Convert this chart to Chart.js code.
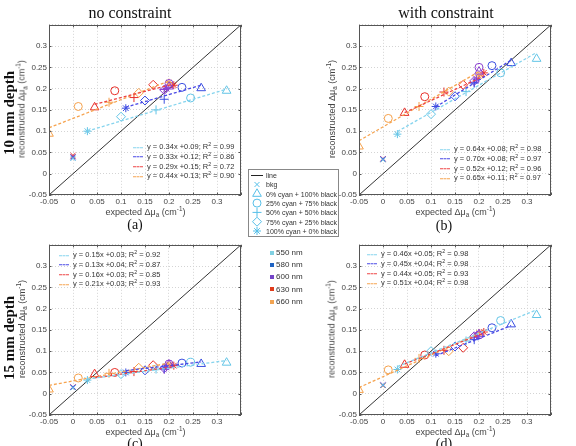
<!DOCTYPE html>
<html>
<head>
<meta charset="utf-8">
<script src="https://cdn.jsdelivr.net/npm/chart.js@4.4.1/dist/chart.umd.min.js"></script>
<style>
body { margin: 0; background: #fff; }
#fig { position: relative; width: 576px; height: 446px; overflow: hidden; font-family: "Liberation Sans", Arial, sans-serif; color: #333; }
.abs { position: absolute; white-space: nowrap; line-height: 1; }
.title { font-family: "Liberation Serif", "Times New Roman", serif; font-size: 16px; color: #111; transform: translate(-50%, -50%); }
.depth { font-family: "Liberation Serif", "Times New Roman", serif; font-weight: bold; font-size: 15px; color: #111; transform: translate(-50%, -50%) rotate(-90deg); }
.letter { font-family: "Liberation Serif", "Times New Roman", serif; font-size: 14px; color: #111; transform: translate(-50%, -50%); }
.ylab { font-size: 9px; color: #444; transform: translate(-50%, -50%) rotate(-90deg); }
.xlab { font-size: 9px; color: #444; transform: translate(-50%, -50%); }
.eq { font-size: 7.5px; color: #333; transform: translateY(-50%); }
.eq .dash { display: inline-block; width: 10px; border-top: 1px dashed; vertical-align: middle; margin-right: 4px; }
.leg { font-size: 7px; color: #333; transform: translateY(-50%); }
.sw { display: inline-block; width: 4px; height: 4px; margin-right: 2px; vertical-align: middle; }
sub, sup { font-size: 70%; line-height: 0; }
canvas { position: absolute; }
</style>
</head>
<body>
<div id="fig"></div>
<script>
// axis range shared by all four panels
const axisMin = -0.05;
const axisMax = 0.35;

const wavelengths = ['550 nm', '580 nm', '600 nm', '630 nm', '660 nm'];
const inks = ['bkg', '0% cyan + 100% black', '25% cyan + 75% black', '50% cyan + 50% black', '75% cyan + 25% black', '100% cyan + 0% black'];

// expected delta mu_a per wavelength, in ink order (bkg, 0%, 25%, 50%, 75%, 100% cyan)
const exp550 = [0, 0.320, 0.245, 0.173, 0.100, 0.030];
const exp580 = [0, 0.267, 0.227, 0.190, 0.150, 0.110];
const exp600 = [0, 0.200, 0.200, 0.190, 0.190, 0.195];
const exp630 = [0, 0.045, 0.087, 0.127, 0.167, 0.210];
const exp660 = [0, -0.050, 0.011, 0.075, 0.137, 0.200];

// (a) 10 mm, no constraint
const recA550 = [0.036, 0.195, 0.178, 0.150, 0.134, 0.100];
const recA580 = [0.038, 0.201, 0.203, 0.175, 0.172, 0.154];
const recA600 = [0.040, 0.205, 0.212, 0.198, 0.197, 0.200];
const recA630 = [0.043, 0.156, 0.195, 0.179, 0.209, 0.208];
const recA660 = [0.040, 0.094, 0.158, 0.168, 0.190, 0.214];
// (b) 10 mm, with constraint
const recB550 = [0.033, 0.270, 0.237, 0.193, 0.140, 0.093];
const recB580 = [0.034, 0.260, 0.254, 0.213, 0.182, 0.158];
const recB600 = [0.035, 0.240, 0.250, 0.215, 0.218, 0.222];
const recB630 = [0.035, 0.143, 0.181, 0.192, 0.209, 0.237];
const recB660 = [0.034, 0.064, 0.130, 0.158, 0.193, 0.230];
// (c) 15 mm, no constraint
const recC550 = [0.014, 0.073, 0.074, 0.058, 0.046, 0.032];
const recC580 = [0.015, 0.070, 0.072, 0.060, 0.055, 0.050];
const recC600 = [0.016, 0.068, 0.070, 0.057, 0.060, 0.062];
const recC630 = [0.016, 0.046, 0.050, 0.052, 0.067, 0.066];
const recC660 = [0.015, 0.010, 0.037, 0.048, 0.061, 0.068];
// (d) 15 mm, with constraint
const recD550 = [0.020, 0.185, 0.172, 0.124, 0.100, 0.057];
const recD580 = [0.020, 0.163, 0.155, 0.127, 0.111, 0.094];
const recD600 = [0.021, 0.140, 0.138, 0.133, 0.135, 0.137];
const recD630 = [0.020, 0.068, 0.091, 0.102, 0.108, 0.145];
const recD660 = [0.019, 0.009, 0.056, 0.083, 0.100, 0.143];

// linear fits (550, 580, 630, 660 nm)
const slopesA = [0.34, 0.33, 0.29, 0.44], interceptsA = [0.09, 0.12, 0.15, 0.13], r2A = [0.99, 0.86, 0.72, 0.90];
const slopesB = [0.64, 0.70, 0.52, 0.65], interceptsB = [0.08, 0.08, 0.12, 0.11], r2B = [0.98, 0.97, 0.96, 0.97];
const slopesC = [0.15, 0.13, 0.16, 0.21], interceptsC = [0.03, 0.04, 0.03, 0.03], r2C = [0.92, 0.87, 0.85, 0.93];
const slopesD = [0.46, 0.45, 0.44, 0.51], interceptsD = [0.05, 0.04, 0.05, 0.04], r2D = [0.98, 0.98, 0.93, 0.98];

const expected = [exp550, exp580, exp600, exp630, exp660];
const pointColors = ['#62c4e6', '#3a4ee0', '#8a3fcf', '#e8302a', '#f5a04a'];
const swatchColors = ['#80d0e2', '#1e62c2', '#7444c8', '#e03c1c', '#f2a452'];
const fitIdx = [0, 1, 3, 4];
const fitColors = ['#86d4ee', '#4848e6', '#ee4444', '#f6a450'];
const markerStyles = ['crossRot', 'triangle', 'circle', 'cross', 'rectRot', 'star'];
const markerSizes = [3.5, 5, 4, 4.5, 4.5, 4];

const fig = document.getElementById('fig');
function addText(cls, x, y, html, extra) {
  const d = document.createElement('div');
  d.className = 'abs ' + cls;
  d.style.left = x + 'px';
  d.style.top = y + 'px';
  d.innerHTML = html;
  if (extra) Object.assign(d.style, extra);
  fig.appendChild(d);
  return d;
}

const fmt = v => String(Math.round(v * 100) / 100);

const boxPlugin = {
  id: 'box',
  afterDraw(chart) {
    const { ctx, chartArea: a, scales } = chart;
    ctx.save();
    ctx.strokeStyle = '#555';
    ctx.lineWidth = 1;
    ctx.strokeRect(Math.round(a.left) + 0.5, Math.round(a.top) + 0.5, Math.round(a.right - a.left) - 1, Math.round(a.bottom - a.top) - 1);
    ctx.beginPath();
    scales.x.ticks.forEach(t => {
      const px = Math.round(scales.x.getPixelForValue(t.value)) + 0.5;
      ctx.moveTo(px, a.bottom); ctx.lineTo(px, a.bottom - 2.5);
      ctx.moveTo(px, a.top); ctx.lineTo(px, a.top + 2.5);
    });
    scales.y.ticks.forEach(t => {
      const py = Math.round(scales.y.getPixelForValue(t.value)) + 0.5;
      ctx.moveTo(a.left, py); ctx.lineTo(a.left + 2.5, py);
      ctx.moveTo(a.right, py); ctx.lineTo(a.right - 2.5, py);
    });
    ctx.stroke();
    ctx.restore();
  }
};

const YW = 34, PT = 5, PR = 5, XH = 16;

function axis(afterFit) {
  return {
    type: 'linear', min: axisMin, max: axisMax,
    ticks: {
      stepSize: 0.05, autoSkip: false, maxRotation: 0, padding: 2,
      color: '#444', font: { family: 'Liberation Sans', size: 8 },
      callback: v => (Math.abs(v - axisMax) < 1e-6 ? '' : fmt(v))
    },
    grid: { color: '#d4d4d4', drawTicks: false },
    border: { display: false, dash: [1, 2] },
    afterFit
  };
}

function panel(p) {
  const cv = document.createElement('canvas');
  const W = YW + p.w + PR, H = PT + p.h + XH;
  cv.width = W; cv.height = H;
  cv.style.left = (p.left - YW) + 'px';
  cv.style.top = (p.top - PT) + 'px';
  cv.style.width = W + 'px'; cv.style.height = H + 'px';
  fig.appendChild(cv);

  const datasets = [];
  datasets.push({
    type: 'line', data: [{ x: axisMin, y: axisMin }, { x: axisMax, y: axisMax }],
    borderColor: '#333', borderWidth: 1, pointRadius: 0, order: 3
  });
  fitIdx.forEach((w, k) => {
    const xs = expected[w].slice(1);
    const x0 = Math.min(...xs), x1 = Math.max(...xs);
    datasets.push({
      type: 'line',
      data: [{ x: x0, y: p.slopes[k] * x0 + p.intercepts[k] }, { x: x1, y: p.slopes[k] * x1 + p.intercepts[k] }],
      borderColor: fitColors[k], borderWidth: 1.3, borderDash: [3, 2], pointRadius: 0, order: 1
    });
  });
  p.rec.forEach((ys, w) => {
    datasets.push({
      type: 'scatter',
      data: expected[w].map((x, i) => ({ x, y: ys[i] })),
      pointStyle: markerStyles, pointRadius: markerSizes,
      borderColor: pointColors[w], backgroundColor: 'rgba(0,0,0,0)', borderWidth: 1, order: 2
    });
  });

  new Chart(cv, {
    type: 'scatter',
    data: { datasets },
    options: {
      responsive: false, animation: false, devicePixelRatio: 1,
      layout: { padding: { top: PT, right: PR, left: 0, bottom: 0 } },
      plugins: { legend: { display: false }, tooltip: { enabled: false } },
      scales: {
        x: axis(s => { s.height = XH; }),
        y: axis(s => { s.width = YW; })
      }
    },
    plugins: [boxPlugin]
  });

  // fit equations
  fitIdx.forEach((w, k) => {
    const y = p.eqY + k * 9.8;
    addText('eq', p.eqX, y,
      `<span class="dash" style="color:${fitColors[k]}"></span>y = ${p.slopes[k].toFixed(2)}x +${p.intercepts[k].toFixed(2)}; R<sup>2</sup> = ${p.r2[k].toFixed(2)}`);
  });

  addText('ylab', p.left - 27, p.top + p.h / 2, 'reconstructed &Delta;&mu;<sub>a</sub> (cm<sup>-1</sup>)');
  addText('xlab', p.left + p.w / 2, p.top + p.h + 17, 'expected &Delta;&mu;<sub>a</sub> (cm<sup>-1</sup>)');
  addText('letter', p.letterX, p.letterY, p.letter);
}

panel({ left: 49, top: 23, w: 193, h: 172, rec: [recA550, recA580, recA600, recA630, recA660],
  slopes: slopesA, intercepts: interceptsA, r2: r2A, eqX: 133, eqY: 147, letter: '(a)', letterX: 135, letterY: 225 });
panel({ left: 359, top: 23, w: 193, h: 172, rec: [recB550, recB580, recB600, recB630, recB660],
  slopes: slopesB, intercepts: interceptsB, r2: r2B, eqX: 440, eqY: 149, letter: '(b)', letterX: 444, letterY: 226 });
panel({ left: 49, top: 243, w: 193, h: 172, rec: [recC550, recC580, recC600, recC630, recC660],
  slopes: slopesC, intercepts: interceptsC, r2: r2C, eqX: 59, eqY: 255, letter: '(c)', letterX: 135, letterY: 444 });
panel({ left: 359, top: 243, w: 193, h: 172, rec: [recD550, recD580, recD600, recD630, recD660],
  slopes: slopesD, intercepts: interceptsD, r2: r2D, eqX: 367, eqY: 254, letter: '(d)', letterX: 444, letterY: 444 });

addText('title', 130, 13, 'no constraint');
addText('title', 446, 13, 'with constraint');
addText('depth', 9, 113, '10 mm depth');
addText('depth', 9, 338, '15 mm depth');

// marker legend
const lg = document.createElement('canvas');
lg.width = 91; lg.height = 68;
lg.style.left = '248px'; lg.style.top = '169px';
fig.appendChild(lg);
const lctx = lg.getContext('2d');
lctx.strokeStyle = '#888'; lctx.lineWidth = 1;
lctx.strokeRect(0.5, 0.5, 90, 67);
lctx.strokeStyle = '#222';
lctx.beginPath(); lctx.moveTo(3, 6.5); lctx.lineTo(15, 6.5); lctx.stroke();
const legNames = ['line'].concat(inks);
markerStyles.forEach((st, i) => {
  lctx.strokeStyle = '#55bfe8'; lctx.fillStyle = 'rgba(0,0,0,0)';
  if (Chart.helpers && Chart.helpers.drawPoint) {
    Chart.helpers.drawPoint(lctx, { pointStyle: st, radius: markerSizes[i], borderWidth: 1, rotation: 0 }, 9, 15.5 + i * 9.3);
  }
});
legNames.forEach((n, i) => addText('leg', 266, 175 + i * 9.3, n));

// wavelength legend
wavelengths.forEach((n, i) => {
  addText('leg', 270, 253 + i * 12.2, `<span class="sw" style="background:${swatchColors[i]}"></span>${n}`, { fontSize: '8px' });
});
</script>
</body>
</html>
